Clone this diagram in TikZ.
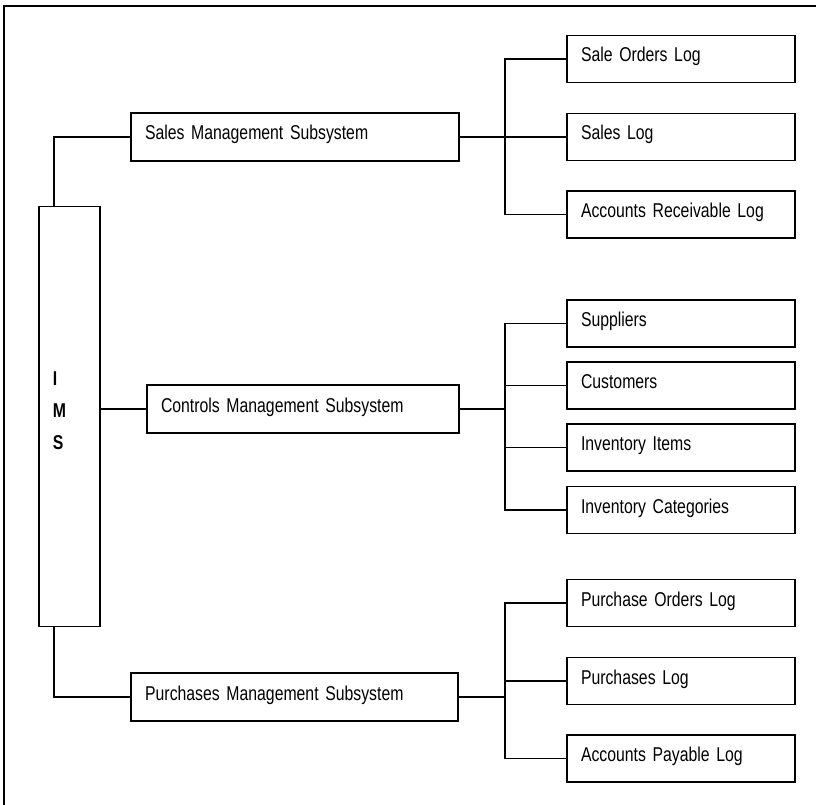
\documentclass[tikz,border=0pt]{standalone}
\usepackage{fontspec}
\setmainfont{Liberation Sans}[FakeStretch=0.79]
\usepackage{tikz}
\usetikzlibrary{calc, positioning}
\newcommand\boxfont{\fontsize{15}{17}\selectfont\spaceskip=2.8pt\relax}

\begin{document}
\begin{tikzpicture}[
  x=0.75pt, y=-0.75pt,
  every node/.style={draw, line width=1.1pt, inner xsep=10.5pt, inner ysep=0pt,
    align=left, font=\boxfont},
  subbox/.style={minimum height=36pt, text height=10.5pt, text depth=6pt},
  logbox/.style={minimum height=35pt, text width=150pt, text height=10.5pt, text depth=6pt},
  link/.style={line width=1.1pt}
]
  \useasboundingbox (0,0) rectangle (816,805);
  % outer frame (left and top edges only)
  \draw[line width=1.5pt] (4,805) -- (4,6) -- (816,6);

  % --- Root ---
  \node[minimum height=315pt, text width=25pt, text height=10.7pt, text depth=57.5pt,
    font=\bfseries\fontsize{15}{24}\selectfont]
    (ims) at (69.5,416.5) {I\\M\\S};

  % --- Subsystems ---
  \node[subbox, text width=225pt] (sales)    at (295,137)   {Sales Management Subsystem};
  \node[subbox, text width=213pt] (controls) at (303,409)   {Controls Management Subsystem};
  \node[subbox, text width=224pt] (purch)    at (294.5,697) {Purchases Management Subsystem};

  \draw[link] ([xshift=-11.6pt]ims.north) |- (sales.west);
  \draw[link] (ims.east |- controls.west) -- (controls.west);
  \draw[link] ([xshift=-11.6pt]ims.south) |- (purch.west);

  % --- Sales logs ---
  \node[logbox] (so)  at (681,59)    {Sale Orders Log};
  \node[logbox] (sl)  at (681,137)   {Sales Log};
  \node[logbox] (arl) at (681,214.5) {Accounts Receivable Log};

  % --- Controls tables ---
  \node[logbox] (sup) at (681,323.5) {Suppliers};
  \node[logbox] (cus) at (681,385.5) {Customers};
  \node[logbox] (ii)  at (681,447.5) {Inventory Items};
  \node[logbox] (ic)  at (681,510)   {Inventory Categories};

  % --- Purchases logs ---
  \node[logbox] (pol) at (681,603)   {Purchase Orders Log};
  \node[logbox] (pl)  at (681,681)   {Purchases Log};
  \node[logbox] (apl) at (681,758.5) {Accounts Payable Log};

  % buses
  \coordinate (bus) at (505,0);
  \draw[link] (sales.east) -- (sales.east -| bus);
  \draw[link] (so.west) -- (so.west -| bus) -- (arl.west -| bus) -- (arl.west);
  \draw[link] (sl.west) -- (sl.west -| bus);

  \draw[link] (controls.east) -- (controls.east -| bus);
  \draw[link] (sup.west) -- (sup.west -| bus) -- (ic.west -| bus) -- (ic.west);
  \foreach \n in {cus, ii}
    \draw[link] (\n.west) -- (\n.west -| bus);

  \draw[link] (purch.east) -- (purch.east -| bus);
  \draw[link] (pol.west) -- (pol.west -| bus) -- (apl.west -| bus) -- (apl.west);
  \draw[link] (pl.west) -- (pl.west -| bus);
\end{tikzpicture}
\end{document}
